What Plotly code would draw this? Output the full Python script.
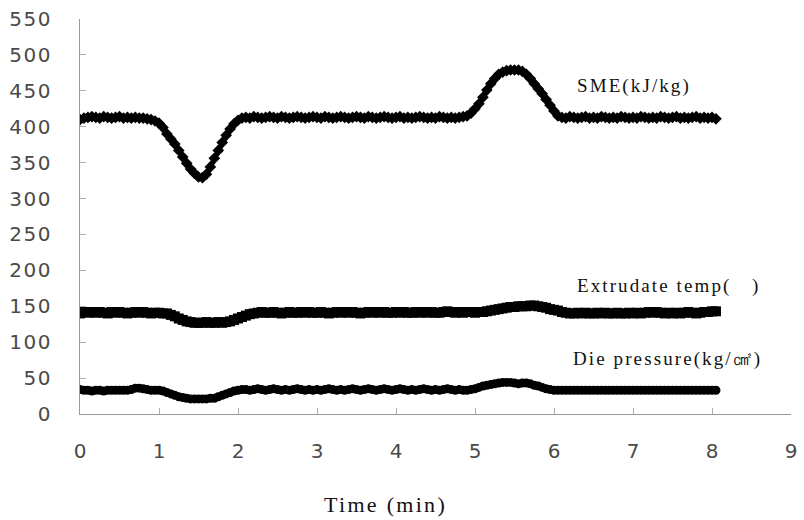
import plotly.graph_objects as go

time_min = [
    0.00, 0.05, 0.10, 0.15, 0.20, 0.25, 0.30, 0.35, 0.40, 0.45, 0.50, 0.55, 0.60, 0.65, 0.70, 0.75, 0.80, 0.85, 0.90, 0.95,
    1.00, 1.05, 1.10, 1.15, 1.20, 1.25, 1.30, 1.35, 1.40, 1.45, 1.50, 1.55, 1.60, 1.65, 1.70, 1.75, 1.80, 1.85, 1.90, 1.95,
    2.00, 2.05, 2.10, 2.15, 2.20, 2.25, 2.30, 2.35, 2.40, 2.45, 2.50, 2.55, 2.60, 2.65, 2.70, 2.75, 2.80, 2.85, 2.90, 2.95,
    3.00, 3.05, 3.10, 3.15, 3.20, 3.25, 3.30, 3.35, 3.40, 3.45, 3.50, 3.55, 3.60, 3.65, 3.70, 3.75, 3.80, 3.85, 3.90, 3.95,
    4.00, 4.05, 4.10, 4.15, 4.20, 4.25, 4.30, 4.35, 4.40, 4.45, 4.50, 4.55, 4.60, 4.65, 4.70, 4.75, 4.80, 4.85, 4.90, 4.95,
    5.00, 5.05, 5.10, 5.15, 5.20, 5.25, 5.30, 5.35, 5.40, 5.45, 5.50, 5.55, 5.60, 5.65, 5.70, 5.75, 5.80, 5.85, 5.90, 5.95,
    6.00, 6.05, 6.10, 6.15, 6.20, 6.25, 6.30, 6.35, 6.40, 6.45, 6.50, 6.55, 6.60, 6.65, 6.70, 6.75, 6.80, 6.85, 6.90, 6.95,
    7.00, 7.05, 7.10, 7.15, 7.20, 7.25, 7.30, 7.35, 7.40, 7.45, 7.50, 7.55, 7.60, 7.65, 7.70, 7.75, 7.80, 7.85, 7.90, 7.95,
    8.00, 8.05,
]

sme = [
    410, 412, 413, 414, 413, 412, 414, 413, 412, 413, 414, 412, 413, 412, 413, 412, 412, 411, 410, 408,
    405, 399, 390, 383, 376, 367, 358, 349, 341, 335, 330, 329, 334, 344, 356, 367, 378, 388, 397, 404,
    409, 412, 413, 412, 414, 413, 412, 413, 414, 413, 412, 414, 413, 412, 413, 414, 413, 412, 413, 414,
    413, 412, 414, 413, 412, 413, 414, 413, 412, 413, 414, 413, 412, 414, 413, 412, 413, 414, 413, 412,
    413, 414, 412, 413, 412, 413, 414, 413, 412, 413, 412, 414, 413, 412, 413, 412, 413, 414, 415, 419,
    425, 432, 441, 451, 460, 467, 473, 476, 478, 479, 479, 479, 477, 473, 467, 460, 453, 446, 438, 430,
    422, 415, 413, 412, 414, 413, 412, 413, 414, 412, 413, 412, 414, 413, 412, 413, 412, 414, 413, 412,
    413, 412, 414, 413, 412, 413, 412, 414, 413, 412, 413, 414, 412, 413, 412, 413, 414, 412, 413, 412,
    413, 411,
]

extrudate_temp = [
    140, 142, 141, 142, 141, 142, 141, 140, 142, 141, 142, 141, 140, 141, 142, 141, 142, 141, 140, 141,
    141, 140, 140, 138, 136, 133, 131, 129, 128, 127, 127, 127, 128, 127, 127, 128, 127, 128, 129, 131,
    133, 135, 137, 139, 140, 141, 142, 141, 141, 142, 141, 140, 141, 142, 141, 141, 142, 141, 142, 141,
    141, 142, 141, 140, 141, 142, 141, 142, 141, 142, 141, 140, 141, 142, 141, 142, 141, 142, 141, 141,
    142, 141, 142, 141, 141, 142, 141, 142, 141, 142, 141, 141, 142, 143, 142, 141, 142, 141, 142, 142,
    141, 142, 142, 143, 144, 145, 146, 147, 148, 149, 149, 150, 150, 150, 151, 151, 150, 149, 148, 146,
    145, 144, 142, 141, 140, 140, 141, 140, 141, 140, 140, 141, 140, 141, 140, 140, 141, 140, 140, 141,
    140, 141, 140, 141, 142, 141, 142, 141, 140, 141, 140, 141, 140, 141, 142, 141, 140, 141, 142, 142,
    143, 143,
]

die_pressure = [
    34, 33, 33, 32, 33, 33, 32, 33, 33, 33, 33, 33, 33, 34, 36, 36, 35, 34, 33, 33,
    33, 32, 30, 28, 26, 24, 23, 22, 21, 21, 21, 21, 21, 22, 22, 24, 26, 28, 30, 32,
    33, 34, 34, 33, 34, 35, 34, 33, 34, 35, 34, 33, 34, 33, 34, 35, 34, 33, 34, 33,
    34, 33, 34, 35, 34, 33, 34, 33, 34, 35, 34, 33, 34, 35, 34, 33, 34, 35, 34, 33,
    34, 35, 34, 33, 34, 33, 34, 35, 34, 33, 34, 33, 34, 35, 34, 33, 34, 33, 33, 34,
    35, 37, 39, 40, 41, 42, 43, 44, 44, 44, 43, 42, 43, 43, 42, 40, 39, 37, 35, 34,
    33, 33, 33, 33, 33, 33, 33, 33, 33, 33, 33, 33, 33, 33, 33, 33, 33, 33, 33, 33,
    33, 33, 33, 33, 33, 33, 33, 33, 33, 33, 33, 33, 33, 33, 33, 33, 33, 33, 33, 33,
    33, 33,
]

x_ticks = [0, 1, 2, 3, 4, 5, 6, 7, 8, 9]
y_ticks = [0, 50, 100, 150, 200, 250, 300, 350, 400, 450, 500, 550]

labels = ["SME(kJ/kg)", "Extrudate\u00a0temp(\u00a0\u00a0\u00a0)", "Die\u00a0pressure(kg/㎠)"]
label_x = [6.26, 6.26, 6.22]
label_y = [457, 178, 76]

SPAN = '<span style="letter-spacing:{}px">{}</span>'

fig = go.Figure()
fig.add_trace(go.Scatter(x=time_min, y=sme, mode="lines+markers",
                         line=dict(color="black", width=5),
                         marker=dict(symbol="diamond", size=9, color="black"),
                         name="SME"))
fig.add_trace(go.Scatter(x=time_min, y=extrudate_temp, mode="lines+markers",
                         line=dict(color="black", width=7),
                         marker=dict(symbol="square", size=10, color="black"),
                         name="Extrudate temp"))
fig.add_trace(go.Scatter(x=time_min, y=die_pressure, mode="lines+markers",
                         line=dict(color="black", width=5),
                         marker=dict(symbol="circle", size=9, color="black"),
                         name="Die pressure"))

for t, lx, ly in zip(labels, label_x, label_y):
    fig.add_annotation(x=lx, y=ly, text=SPAN.format(2.1, t), showarrow=False, xanchor="left",
                       yanchor="middle",
                       font=dict(family="Liberation Serif", size=19, color="#111"))

fig.add_annotation(xref="paper", yref="paper", x=0.429, y=-0.229,
                   text=SPAN.format(2.3, "Time\u00a0(min)"), showarrow=False,
                   xanchor="center", yanchor="middle",
                   font=dict(family="Liberation Serif", size=22, color="#111"))

axis_common = dict(showgrid=False, zeroline=False, showline=True,
                   linecolor="#9a9a9a", linewidth=1, ticks="inside",
                   tickcolor="#b0b0b0", ticklen=6,
                   tickfont=dict(family="DejaVu Sans", size=20, color="#4a4a4a"))

fig.update_xaxes(range=[0, 9], tickvals=x_ticks,
                 ticklabelstandoff=19, **axis_common)
fig.update_yaxes(range=[0, 550], tickvals=y_ticks,
                 ticktext=[SPAN.format(1.5, str(v)) for v in y_ticks],
                 ticklabelstandoff=23, **axis_common)

fig.update_layout(width=804, height=520, showlegend=False,
                  margin=dict(l=80, r=7, t=16, b=106),
                  plot_bgcolor="white", paper_bgcolor="white")

fig.write_html("out.html")
